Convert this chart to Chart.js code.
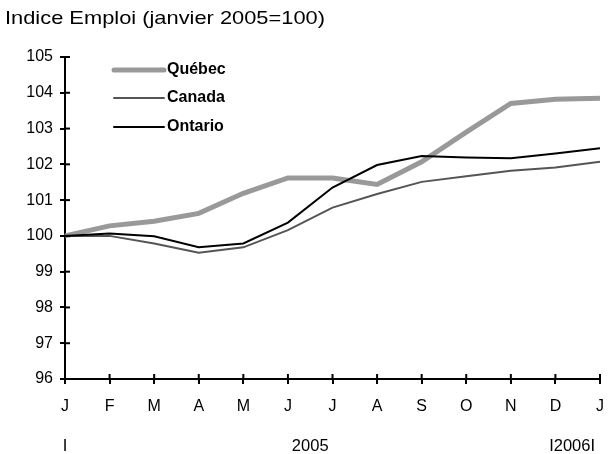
<!DOCTYPE html>
<html>
<head>
<meta charset="utf-8">
<script src="https://cdn.jsdelivr.net/npm/chart.js@4"></script>
<style>
  html, body { margin: 0; padding: 0; background: #fff; }
  #wrap { width: 610px; height: 454px; position: relative; }
</style>
</head>
<body>
<div id="wrap"><canvas id="c" width="610" height="454"></canvas></div>
<script>
const titleText = 'Indice Emploi (janvier 2005=100)';
const months = ['J','F','M','A','M','J','J','A','S','O','N','D','J'];
const yearLabels = ['I', '2005', 'I2006I'];
const seriesNames = ['Québec', 'Canada', 'Ontario'];
const quebec  = [100, 100.28, 100.41, 100.63, 101.19, 101.62, 101.62, 101.44, 102.07, 102.9, 103.70, 103.82, 103.85];
const canada  = [100, 100.0, 99.79, 99.53, 99.68, 100.16, 100.79, 101.17, 101.51, 101.67, 101.82, 101.91, 102.07];
const ontario = [100, 100.07, 99.99, 99.68, 99.79, 100.37, 101.35, 101.98, 102.23, 102.19, 102.17, 102.30, 102.45];
const yMin = 96, yMax = 105, yStep = 1;

const FONT = '"Liberation Sans", Arial, sans-serif';

const decorPlugin = {
  id: 'decor',
  afterDraw(chart) {
    const ctx = chart.ctx;
    const xs = chart.scales.x, ys = chart.scales.y;
    const area = chart.chartArea;
    ctx.save();
    // title (slightly widened to match the reference lettering)
    ctx.fillStyle = '#000';
    ctx.font = '18.5px ' + FONT;
    ctx.textAlign = 'left';
    ctx.textBaseline = 'middle';
    const w = ctx.measureText(titleText).width;
    const sx = 320 / w;
    ctx.save();
    ctx.translate(5, 18.5);
    ctx.scale(sx, 1);
    ctx.fillText(titleText, 0, 0);
    ctx.restore();
    // inner tick marks
    ctx.strokeStyle = '#000';
    ctx.lineWidth = 2;
    ys.ticks.forEach((t, i) => {
      const y = ys.getPixelForTick(i);
      ctx.beginPath(); ctx.moveTo(area.left, y); ctx.lineTo(area.left + 5, y); ctx.stroke();
    });
    xs.ticks.forEach((t, i) => {
      const x = xs.getPixelForTick(i);
      ctx.beginPath(); ctx.moveTo(x, area.bottom); ctx.lineTo(x, area.bottom - 5); ctx.stroke();
    });
    // year row
    ctx.font = '16.5px ' + FONT;
    ctx.textBaseline = 'middle';
    const yy = 446;
    ctx.textAlign = 'center';
    ctx.fillText(yearLabels[0], xs.getPixelForValue(0), yy);
    ctx.fillText(yearLabels[1], (xs.getPixelForValue(5) + xs.getPixelForValue(6)) / 2, yy);
    ctx.textAlign = 'right';
    ctx.fillText(yearLabels[2], xs.getPixelForValue(12) - 5, yy);
    // legend
    const rows = [70, 98, 127];
    ctx.font = 'bold 16px ' + FONT;
    ctx.textAlign = 'left';
    chart.data.datasets.forEach((ds, i) => {
      const y = rows[i];
      ctx.strokeStyle = ds.borderColor;
      ctx.lineWidth = ds.borderWidth;
      ctx.lineCap = 'round';
      ctx.beginPath(); ctx.moveTo(114, y); ctx.lineTo(164, y); ctx.stroke();
      ctx.fillStyle = '#000';
      ctx.fillText(ds.label, 167, y);
    });
    ctx.restore();
  }
};

new Chart(document.getElementById('c'), {
  type: 'line',
  data: {
    labels: months,
    datasets: [
      { label: seriesNames[0], data: quebec,  borderColor: '#999999', borderWidth: 5, order: 3 },
      { label: seriesNames[1], data: canada,  borderColor: '#555555', borderWidth: 2, order: 2 },
      { label: seriesNames[2], data: ontario, borderColor: '#000000', borderWidth: 2, order: 1 }
    ]
  },
  options: {
    responsive: false,
    animation: false,
    devicePixelRatio: 1,
    layout: { padding: { top: 57, right: 10, left: 0, bottom: 0 } },
    elements: { point: { radius: 0 }, line: { tension: 0, fill: false } },
    plugins: { legend: { display: false }, tooltip: { enabled: false }, title: { display: false } },
    scales: {
      x: {
        type: 'category',
        offset: false,
        afterFit: s => { s.height = 75; s.paddingRight = 0; s.paddingLeft = 0; },
        grid: { drawOnChartArea: false, drawTicks: true, tickLength: 5, color: '#000', lineWidth: 2 },
        border: { display: true, color: '#000', width: 2 },
        ticks: { color: '#000', font: { family: FONT, size: 16 }, padding: 13, maxRotation: 0, autoSkip: false }
      },
      y: {
        min: yMin, max: yMax,
        afterFit: s => { s.width = 65; },
        grid: { drawOnChartArea: false, drawTicks: true, tickLength: 5, color: '#000', lineWidth: 2 },
        border: { display: true, color: '#000', width: 2 },
        ticks: { stepSize: yStep, color: '#000', font: { family: FONT, size: 16 }, padding: 7 }
      }
    }
  },
  plugins: [decorPlugin]
});
</script>
</body>
</html>
